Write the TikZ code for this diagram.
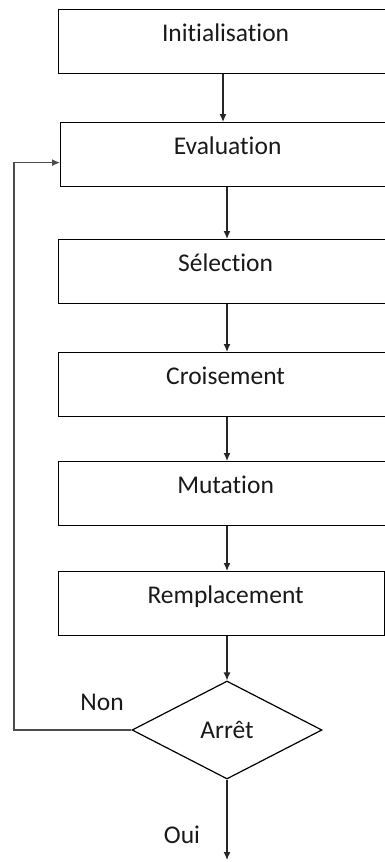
\documentclass[tikz,border=0pt]{standalone}
\usepackage{fontspec}
\setmainfont[Ligatures={NoCommon}]{Carlito}
\usetikzlibrary{shapes.geometric,arrows.meta}
\begin{document}
\begin{tikzpicture}[x=1pt,y=-1pt,
 stepbox/.style={draw=black,line width=1.2pt,rectangle,anchor=north west,minimum width=334pt,minimum height=64pt,inner sep=0pt,text height=32pt,text depth=32pt,font=\fontsize{25.5}{30}\selectfont,text=black!90},
 conn/.style={draw=black!85,line width=1.2pt,-{Latex[length=8pt,width=7pt]}},
 lbl/.style={font=\fontsize{25.5}{30}\selectfont,anchor=base,inner sep=0pt,text=black!90}]
\useasboundingbox (0,0) rectangle (385,862);
\node[stepbox] (init) at (58,9) {Initialisation};
\node[stepbox] (eval) at (60,122) {Evaluation};
\node[stepbox] (sel) at (58,239) {Sélection};
\node[stepbox] (crois) at (58,352) {Croisement};
\node[stepbox] (mut) at (58,461) {Mutation};
\node[stepbox,minimum width=326pt] (rempl) at (58,571) {\hspace*{8pt}Remplacement};
\node[draw=black,line width=1.2pt,diamond,minimum width=190pt,minimum height=98pt,inner sep=0pt,text height=16pt,text depth=0pt,font=\fontsize{25.5}{30}\selectfont,text=black!90] (stop) at (227,730) {Arrêt};
\coordinate (c1) at (223,0);
\coordinate (c2) at (227,0);
\coordinate (loopx) at (14,0);
\coordinate (endp) at (227,860);
\draw[conn] (init.south -| c1) -- (eval.north -| c1);
\draw[conn] (eval.south -| c2) -- (sel.north -| c2);
\draw[conn] (sel.south -| c2) -- (crois.north -| c2);
\draw[conn] (crois.south -| c2) -- (mut.north -| c2);
\draw[conn] (mut.south -| c2) -- (rempl.north -| c2);
\draw[conn] (rempl.south -| c2) -- (stop.north);
\draw[conn] (stop.south) -- (endp);
\draw[conn,draw=black!70] (stop.west) -- (stop.west -| loopx) |- ([yshift=-8pt]eval.west);
\node[lbl] (non) at (102,710) {Non};
\node[lbl] (oui) at (182,843) {Oui};
\end{tikzpicture}
\end{document}
